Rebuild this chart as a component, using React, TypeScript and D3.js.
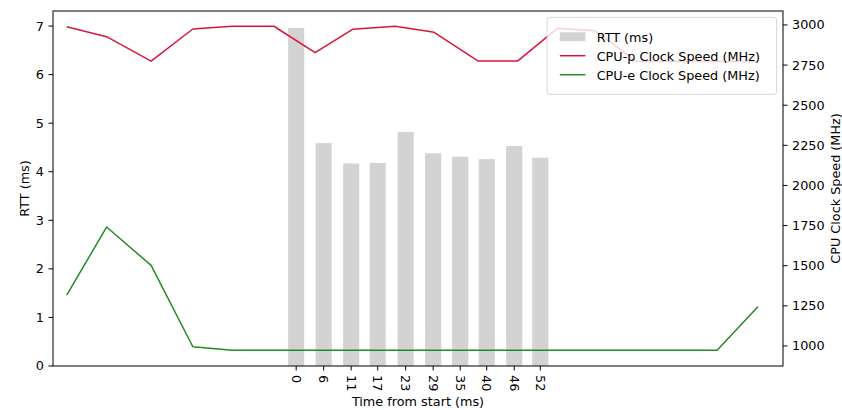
import * as d3 from 'd3';

// RTT samples (bars, left axis)
const rttTimes = [0, 5.8, 11.6, 17.2, 23.1, 28.9, 34.6, 40.2, 46.0, 51.5];
const rttTickLabels = ['0', '6', '11', '17', '23', '29', '35', '40', '46', '52'];
const rttValues = [6.96, 4.59, 4.17, 4.18, 4.82, 4.38, 4.31, 4.26, 4.53, 4.29];

// CPU clock samples (lines, right axis)
const cpuTimes = [-48.4, -40.0, -30.6, -21.8, -13.5, -4.7, 4.0, 11.9, 20.9, 29.1, 38.4, 46.7, 55.1, 63.0, 71.8, 80.3, 88.8, 97.4];
const cpuP = [2989, 2927, 2775, 2975, 2992, 2992, 2827, 2973, 2992, 2954, 2775, 2775, 2979, 2964, 2773, 2773, 2773, 2773];
const cpuE = [1316, 1741, 1502, 995, 973, 973, 973, 973, 973, 973, 973, 973, 973, 973, 973, 973, 973, 1244];

const leftTicks = [0, 1, 2, 3, 4, 5, 6, 7];
const rightTicks = [1000, 1250, 1500, 1750, 2000, 2250, 2500, 2750, 3000];

const W = 842;
const H = 410;
const margin = { top: 11, right: 59, bottom: 44, left: 53 };
const FONT = 'DejaVu Sans, sans-serif';
const FS = 12.8;
const BAR_W = 3.4; // ms
const TICK = 4.5;
const PAD = 4.5;

export default function App() {
    const x0 = margin.left;
    const x1 = W - margin.right;
    const y0 = H - margin.bottom;
    const y1 = margin.top;

    const x = d3.scaleLinear().domain([-51.3, 102.7]).range([x0, x1]);
    const yL = d3.scaleLinear().domain([0, 7.31]).range([y0, y1]);
    const yR = d3.scaleLinear().domain([875, 3087]).range([y0, y1]);

    const lineP = d3.line<number>().x((_, i) => x(cpuTimes[i])).y(d => yR(d));
    const barPx = x(BAR_W) - x(0);

    // legend box (upper right)
    const lgW = 229.5;
    const lgH = 77;
    const lgX = x1 - 6.4 - lgW;
    const lgY = y1 + 6.4;
    const rowY = [lgY + 19.3, lgY + 38.3, lgY + 57.3];
    const hx = lgX + 12.7;
    const hw = 25.6;
    const tx = hx + hw + 11.3;
    const legendItems = ['RTT (ms)', 'CPU-p Clock Speed (MHz)', 'CPU-e Clock Speed (MHz)'];

    return (
        <svg width={W} height={H} style={{ position: 'absolute', left: 0, top: 0, display: 'block' }}
            fontFamily={FONT} fontSize={FS}>
            <rect width={W} height={H} fill="#fff" />

            {/* bars */}
            {rttValues.map((v, i) => (
                <rect key={i} x={x(rttTimes[i]) - barPx / 2} y={yL(v)} width={barPx} height={yL(0) - yL(v)}
                    fill="lightgray" />
            ))}

            {/* lines */}
            <path d={lineP(cpuP) ?? ''} fill="none" stroke="crimson" strokeWidth={1.5} strokeLinejoin="round" />
            <path d={lineP(cpuE) ?? ''} fill="none" stroke="forestgreen" strokeWidth={1.5} strokeLinejoin="round" />

            {/* frame */}
            <rect x={x0} y={y1} width={x1 - x0} height={y0 - y1} fill="none" stroke="#000" strokeWidth={1} />

            {/* x ticks */}
            {rttTimes.map((t, i) => (
                <g key={i} transform={`translate(${x(t)},${y0})`}>
                    <line y2={TICK} stroke="#000" strokeWidth={1} />
                    <text transform={`translate(0,${TICK + PAD}) rotate(90)`} dy="0.35em" textAnchor="start">
                        {rttTickLabels[i]}
                    </text>
                </g>
            ))}

            {/* left ticks */}
            {leftTicks.map(t => (
                <g key={t} transform={`translate(${x0},${yL(t)})`}>
                    <line x2={-TICK} stroke="#000" strokeWidth={1} />
                    <text x={-TICK - PAD} dy="0.35em" textAnchor="end">{t}</text>
                </g>
            ))}

            {/* right ticks */}
            {rightTicks.map(t => (
                <g key={t} transform={`translate(${x1},${yR(t)})`}>
                    <line x2={TICK} stroke="#000" strokeWidth={1} />
                    <text x={TICK + PAD} dy="0.35em" textAnchor="start">{t}</text>
                </g>
            ))}

            {/* axis labels */}
            <text x={(x0 + x1) / 2} y={406} textAnchor="middle">Time from start (ms)</text>
            <text transform={`translate(28.5,${(y0 + y1) / 2}) rotate(-90)`} textAnchor="middle">RTT (ms)</text>
            <text transform={`translate(840,${(y0 + y1) / 2}) rotate(-90)`} textAnchor="middle">CPU Clock Speed (MHz)</text>

            {/* legend */}
            <rect x={lgX} y={lgY} width={lgW} height={lgH} rx={2.6} fill="#fff" fillOpacity={0.8}
                stroke="#ccc" strokeOpacity={0.8} strokeWidth={1} />
            <rect x={hx} y={rowY[0] - 4.4} width={hw} height={8.8} fill="lightgray" />
            <line x1={hx} x2={hx + hw} y1={rowY[1]} y2={rowY[1]} stroke="crimson" strokeWidth={1.5} />
            <line x1={hx} x2={hx + hw} y1={rowY[2]} y2={rowY[2]} stroke="forestgreen" strokeWidth={1.5} />
            {legendItems.map((s, i) => (
                <text key={s} x={tx} y={rowY[i]} dy="0.38em">{s}</text>
            ))}
        </svg>
    );
}
